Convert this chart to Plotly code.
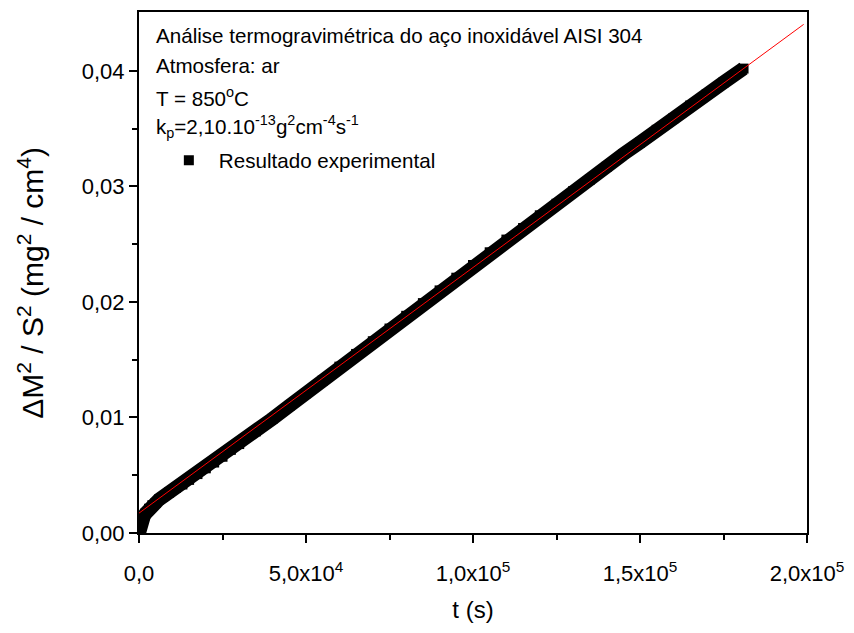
import plotly.graph_objects as go

t_exp = [0, 300, 600, 1000, 1500, 2000, 3000, 4000, 5000, 6000, 7500, 9000,
         11000, 13000, 15000, 17500, 20000, 22500, 25000, 27500, 30000, 35000,
         40000, 45000, 50000, 55000, 60000, 65000, 70000, 75000, 80000, 85000,
         90000, 95000, 100000, 105000, 110000, 115000, 120000, 125000, 130000,
         135000, 140000, 145000, 150000, 155000, 160000, 165000, 170000,
         175000, 181000]
y_exp = [0.0000, 0.0006, 0.0009, 0.0012, 0.0015, 0.0017, 0.0021, 0.0024, 0.0026,
         0.0029, 0.0032, 0.0035, 0.0039, 0.0042, 0.0046, 0.0051, 0.0056, 0.0061,
         0.0066, 0.0072, 0.0077, 0.0088, 0.0099, 0.0110, 0.0121, 0.0132, 0.0144,
         0.0155, 0.0166, 0.0177, 0.0188, 0.0199, 0.0210, 0.0221, 0.0232, 0.0243,
         0.0254, 0.0264, 0.0275, 0.0285, 0.0296, 0.0306, 0.0317, 0.0328, 0.0338,
         0.0349, 0.0359, 0.0370, 0.0380, 0.0390, 0.0402]

# Linear fit line (red)
fit_t = [0, 199000]
fit_y = [0.00172, 0.04403]

# Ticks
x_tickvals = [0, 50000, 100000, 150000, 200000]
x_ticktext = ["0,0", "5,0x10<sup>4</sup>", "1,0x10<sup>5</sup>",
              "1,5x10<sup>5</sup>", "2,0x10<sup>5</sup>"]
x_minor = [25000, 75000, 125000, 175000]
y_tickvals = [0.00, 0.01, 0.02, 0.03, 0.04]
y_ticktext = ["0,00", "0,01", "0,02", "0,03", "0,04"]
y_minor = [0.005, 0.015, 0.025, 0.035]

info_lines = [
    "Análise termogravimétrica do aço inoxidável AISI 304",
    "Atmosfera: ar",
    "T = 850<sup>o</sup>C",
    "k<sub>p</sub>=2,10.10<sup>-13</sup>g<sup>2</sup>cm<sup>-4</sup>s<sup>-1</sup>",
]
y_title = "ΔM<sup>2</sup> / S<sup>2</sup> (mg<sup>2</sup> / cm<sup>4</sup>)"

FONT = "Arial, Liberation Sans, sans-serif"

fig = go.Figure()
fig.add_trace(go.Scatter(x=t_exp, y=y_exp, mode="lines",
                         line=dict(color="black", width=14),
                         showlegend=False, hoverinfo="skip"))
fig.add_trace(go.Scatter(x=t_exp, y=y_exp, mode="markers",
                         marker=dict(symbol="square", size=10, color="black"),
                         name="Resultado experimental"))
fig.add_trace(go.Scatter(x=fit_t, y=fit_y, mode="lines",
                         line=dict(color="red", width=1),
                         showlegend=False))

L, R, T, B = 139, 42, 10, 100
W, H = 854, 633
pw, ph = W - L - R, H - T - B

line_y_px = [34, 64, 95, 125]
for txt, ypx in zip(info_lines, line_y_px):
    fig.add_annotation(text=txt, xref="paper", yref="paper",
                       x=(154 - L) / pw, y=(H - B - ypx) / ph,
                       xanchor="left", yanchor="middle", showarrow=False,
                       font=dict(family=FONT, size=20.6, color="black"))

# y-axis title
fig.add_annotation(text=y_title, xref="paper", yref="paper",
                   x=(30 - L) / pw, y=(H - B - 282) / ph,
                   xanchor="center", yanchor="middle", textangle=-90,
                   showarrow=False,
                   font=dict(family=FONT, size=30, color="black"))

axis_common = dict(showline=True, linecolor="black", linewidth=2, mirror=True,
                   ticks="outside", ticklen=8, tickwidth=2, tickcolor="black",
                   showgrid=False, zeroline=False,
                   tickfont=dict(family=FONT, size=22, color="black"))

fig.update_layout(
    width=W, height=H,
    margin=dict(l=L, r=R, t=T, b=B),
    plot_bgcolor="white", paper_bgcolor="white",
    xaxis=dict(range=[0, 200000], tickmode="array", tickvals=x_tickvals,
               ticktext=x_ticktext, ticklabelstandoff=12,
               minor=dict(tickvals=x_minor, ticks="outside", ticklen=5,
                          tickwidth=2, tickcolor="black"),
               title=dict(text="t (s)", font=dict(family=FONT, size=24, color="black"),
                          standoff=16),
               **axis_common),
    yaxis=dict(range=[0, 0.0451], tickmode="array", tickvals=y_tickvals,
               ticktext=y_ticktext,
               minor=dict(tickvals=y_minor, ticks="outside", ticklen=5,
                          tickwidth=2, tickcolor="black"),
               **axis_common),
    legend=dict(x=(159 - L) / pw, y=(H - B - 159) / ph, xanchor="left",
                yanchor="middle", bgcolor="rgba(0,0,0,0)", itemwidth=50,
                font=dict(family=FONT, size=20.6, color="black")),
)

fig.write_html("out.html")
